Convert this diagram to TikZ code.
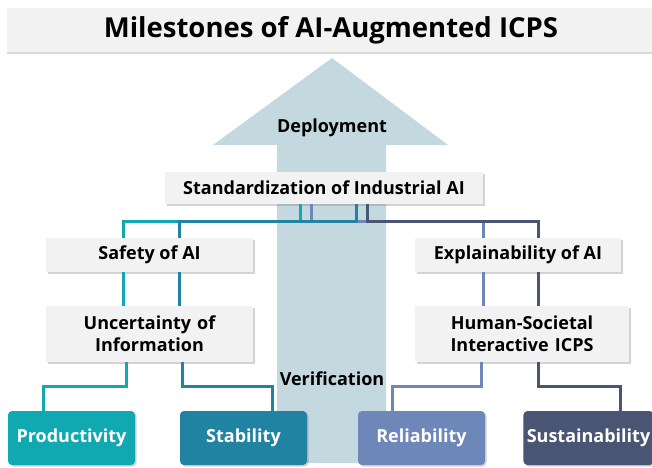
\documentclass[tikz,border=0pt]{standalone}
\usepackage{fontspec}
\setmainfont{Open Sans}
\usetikzlibrary{shadows,calc}

\definecolor{cTeal}{HTML}{11A9B1}
\definecolor{cSea}{HTML}{1F83A1}
\definecolor{cBlue}{HTML}{6D88B8}
\definecolor{cNavy}{HTML}{4A5573}
\definecolor{cArrow}{HTML}{C4D8DF}
\definecolor{cBox}{HTML}{F2F2F2}

\tikzset{
  lbl/.style={font=\bfseries\fontsize{18}{22}\selectfont},
  graybox/.style={lbl, fill=cBox, draw=none, align=center, inner sep=0pt,
    drop shadow={shadow xshift=1.5pt, shadow yshift=-1.5pt, opacity=0.35, fill=gray}},
  goalbox/.style={lbl, draw=none, rounded corners=4pt, text=white, minimum width=127pt, minimum height=54pt,
    drop shadow={shadow xshift=1.5pt, shadow yshift=-1.5pt, opacity=0.35, fill=gray}},
  link/.style={line width=3pt},
  lTeal/.style={link, draw=cTeal},
  lSea/.style={link, draw=cSea},
  lBlue/.style={link, draw=cBlue},
  lNavy/.style={link, draw=cNavy},
}

\begin{document}
\begin{tikzpicture}[x=1pt, y=-1pt]
\useasboundingbox (0,0) rectangle (652,467);

% broad upward arrow in the background
\fill[cArrow] (332,58) -- (448,145) -- (386,145) -- (386,463) -- (277,463) -- (277,145) -- (213,145) -- cycle;
\node[lbl] (deploy) at (332,128) {Deployment};
\node[lbl] (verif) at (332,379) {Verification};

% title bar
\node[fill=cBox, minimum width=646pt, minimum height=44pt, anchor=north west,
  drop shadow={shadow xshift=0pt, shadow yshift=-1.5pt, opacity=0.3, fill=gray}]
  (title) at (7,8) {};
\node[font=\bfseries\fontsize{27.5}{32}\selectfont] (titletext) at (331,30) {Milestones of AI-Augmented ICPS};

% intermediate boxes
\node[graybox, minimum width=318pt, minimum height=32pt] (std) at (324,188) {Standardization of Industrial AI};
\node[graybox, minimum width=207pt, minimum height=34pt] (safety) at (149.5,255) {Safety of AI};
\node[graybox, minimum width=207pt, minimum height=56pt, text width=200pt] (uncert) at (149.5,334) {Uncertainty of\\Information};
\node[graybox, minimum width=206pt, minimum height=34pt] (explain) at (518,255) {Explainability of AI};
\node[graybox, minimum width=214pt, minimum height=56pt, text width=206pt] (human) at (522,334) {Human-Societal\\Interactive ICPS};

% connectors from the standardization box
\draw[lTeal] ($(std.south)+(-24,0)$) -- ++(0,17) -| ($(safety.north)+(-26.5,0)$);
\draw[lBlue] ($(std.south)+(-13,0)$) -- ++(0,17) -| ($(explain.north)+(-35,0)$);
\draw[lSea] ($(std.south)+(32,0)$) -- ++(0,17) -| ($(safety.north)+(30,0)$);
\draw[lNavy] ($(std.south)+(43,0)$) -- ++(0,17) -| ($(explain.north)+(20,0)$);

% connectors between the paired boxes
\draw[lTeal] ($(safety.south)+(-26.5,0)$) -- ($(uncert.north)+(-26.5,0)$);
\draw[lSea] ($(safety.south)+(30,0)$) -- ($(uncert.north)+(30,0)$);
\draw[lBlue] ($(explain.south)+(-35,0)$) -- ($(human.north)+(-39,0)$);
\draw[lNavy] ($(explain.south)+(20,0)$) -- ($(human.north)+(16,0)$);

% goal boxes
\node[goalbox, fill=cTeal] (prod) at (71.5,438) {Productivity};
\node[goalbox, fill=cSea] (stab) at (243.5,438) {Stability};
\node[goalbox, fill=cBlue] (rel) at (421.5,438) {Reliability};
\node[goalbox, fill=cNavy] (sust) at (588.5,438) {Sustainability};

% connectors to the goal boxes
\draw[lTeal] ($(uncert.south)+(-23.5,0)$) -- ++(0,24) -| ($(prod.north)+(-28.5,0)$);
\draw[lSea] ($(uncert.south)+(32.5,0)$) -- ++(0,24) -| ($(stab.north)+(28.5,0)$);
\draw[lBlue] ($(human.south)+(-41,0)$) -- ++(0,24) -| ($(rel.north)+(-29.5,0)$);
\draw[lNavy] ($(human.south)+(16,0)$) -- ++(0,24) -| ($(sust.north)+(31.5,0)$);
\end{tikzpicture}
\end{document}
